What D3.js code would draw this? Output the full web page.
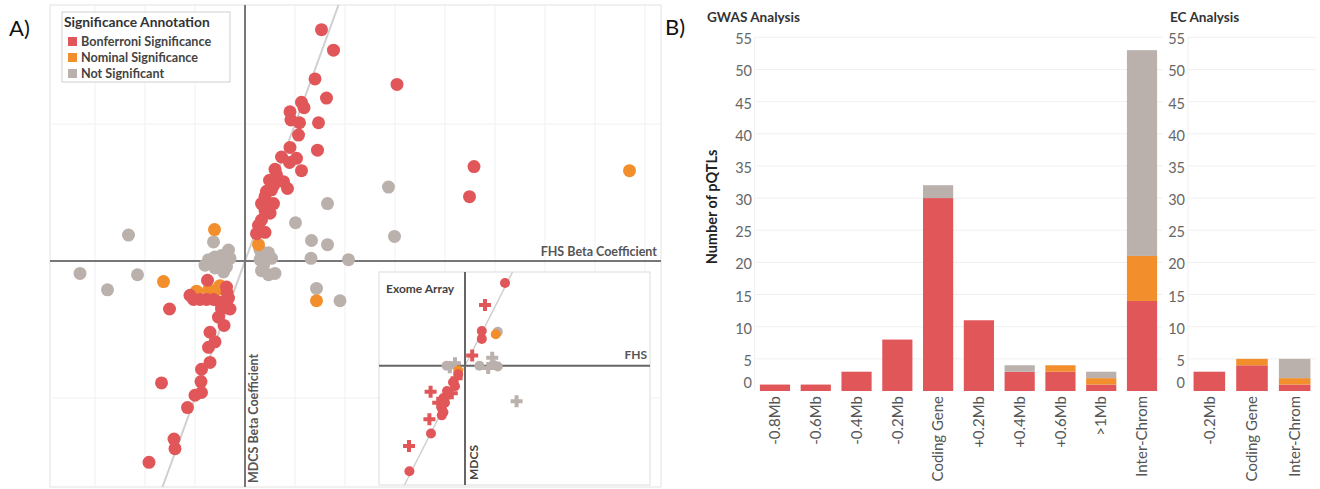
<!DOCTYPE html>
<html>
<head>
<meta charset="utf-8">
<script src="https://cdn.jsdelivr.net/npm/d3@7"></script>
<style>
  body { margin: 0; background: #fff; }
  svg { display: block; font-family: Lato, "Open Sans", sans-serif; }
</style>
</head>
<body>
<svg id="chart" width="1320" height="489"></svg>
<script>
// ---- panel A data: [FHS beta, MDCS beta]
const bonfPts = [
  [0.153, 0.169], [0.177, 0.154], [0.140, 0.133], [0.163, 0.119], [0.113, 0.116],
  [0.118, 0.112], [0.090, 0.109], [0.092, 0.103], [0.109, 0.101], [0.147, 0.101],
  [0.107, 0.092], [0.090, 0.083], [0.145, 0.081], [0.073, 0.076], [0.089, 0.072],
  [0.103, 0.075], [0.113, 0.066], [0.060, 0.067], [0.063, 0.063], [0.049, 0.059],
  [0.077, 0.058], [0.057, 0.055], [0.085, 0.053], [0.043, 0.051], [0.053, 0.052],
  [0.033, 0.042], [0.057, 0.042], [0.040, 0.037], [0.050, 0.035], [0.033, 0.030],
  [0.027, 0.026], [0.040, 0.021], [0.023, 0.020], [0.050, 0.052], [0.040, 0.047],
  [0.304, 0.129], [0.458, 0.069], [0.449, 0.047],
  [-0.075, -0.014], [-0.151, -0.035], [-0.103, -0.028], [-0.090, -0.028], [-0.077, -0.028],
  [-0.063, -0.028], [-0.050, -0.030], [-0.037, -0.019], [-0.033, -0.027], [-0.030, -0.035],
  [-0.047, -0.035], [-0.053, -0.041], [-0.042, -0.047], [-0.070, -0.052], [-0.060, -0.059],
  [-0.073, -0.063], [-0.070, -0.074], [-0.087, -0.079], [-0.167, -0.089], [-0.088, -0.088],
  [-0.087, -0.096], [-0.100, -0.098], [-0.115, -0.107], [-0.142, -0.130], [-0.140, -0.137],
  [-0.192, -0.147], [-0.036, -0.023], [-0.110, -0.025]
];
const nomPts = [
  [-0.061, 0.023], [0.027, 0.012], [-0.163, -0.015], [0.143, -0.029], [0.769, 0.066],
  [-0.097, -0.022], [-0.073, -0.021], [-0.050, -0.018], [-0.057, -0.021]
];
const notPts = [
  [-0.233, 0.019], [-0.330, -0.009], [-0.215, -0.010], [-0.275, -0.021], [0.165, 0.042],
  [0.287, 0.054], [0.299, 0.018], [0.101, 0.028], [0.133, 0.015], [0.165, 0.012],
  [0.132, 0.002], [0.207, 0.001], [0.143, -0.020], [0.190, -0.029],
  [0.030, 0.008], [0.047, 0.006], [0.053, 0.002], [0.030, 0.001], [0.037, -0.003],
  [0.033, -0.007], [0.047, -0.010], [0.060, -0.009],
  [-0.063, 0.014], [-0.033, 0.008], [-0.047, 0.004], [-0.060, 0.003], [-0.030, 0.002],
  [-0.073, 0.001], [-0.053, -0.002], [-0.080, -0.003], [-0.037, -0.004], [-0.060, -0.005],
  [-0.043, -0.008]
];

// inset (Exome Array): [FHS, MDCS, shape]
const exBonf = [
  [0.100, 0.105, 'c'], [0.042, 0.044, 'c'], [0.042, 0.034, 'c'], [-0.017, -0.011, 'c'],
  [-0.025, -0.026, 'c'], [-0.042, -0.037, 'c'], [-0.054, -0.041, 'c'], [-0.050, -0.047, 'c'],
  [-0.058, -0.054, 'c'], [-0.054, -0.059, 'c'], [-0.058, -0.063, 'c'], [-0.085, -0.086, 'c'],
  [-0.139, -0.134, 'c'], [-0.030, -0.021, 'c'], [-0.045, -0.032, 'c'],
  [0.050, 0.077, 'p'], [0.018, 0.013, 'p'], [-0.021, -0.016, 'p'], [-0.033, -0.035, 'p'],
  [-0.086, -0.033, 'p'], [-0.089, -0.068, 'p'], [-0.140, -0.102, 'p'], [-0.067, -0.047, 'p']
];
const exNom = [[0.077, 0.040, 'c'], [-0.017, -0.006, 'c']];
const exNot = [
  [0.082, 0.043, 'c'], [-0.046, 0.000, 'c'], [0.036, 0.000, 'c'], [0.082, -0.001, 'c'],
  [0.071, 0.001, 'c'],
  [-0.025, 0.003, 'p'], [-0.038, -0.002, 'p'], [0.058, -0.003, 'p'], [0.068, 0.010, 'p'],
  [0.129, -0.045, 'p']
];

// ---- panel B data
const gwasCats = ['-0.8Mb', '-0.6Mb', '-0.4Mb', '-0.2Mb', 'Coding Gene', '+0.2Mb', '+0.4Mb', '+0.6Mb', '>1Mb', 'Inter-Chrom'];
const gwasBonf = [1, 1, 3, 8, 30, 11, 3, 3, 1, 14];
const gwasNom = [0, 0, 0, 0, 0, 0, 0, 1, 1, 7];
const gwasNot = [0, 0, 0, 0, 2, 0, 1, 0, 1, 32];
const ecCats = ['-0.2Mb', 'Coding Gene', 'Inter-Chrom'];
const ecBonf = [3, 4, 1];
const ecNom = [0, 1, 1];
const ecNot = [0, 0, 3];
const yTicks = [0, 5, 10, 15, 20, 25, 30, 35, 40, 45, 50, 55];

const legendItems = ['Bonferroni Significance', 'Nominal Significance', 'Not Significant'];
const colors = ['#e15759', '#f28e2b', '#bab0ac'];

const svg = d3.select('#chart');

// ================= panel A =================
const x = d3.scaleLinear().domain([-0.39, 0.832]).range([50, 661]);
const y = d3.scaleLinear().domain([-0.165, 0.187]).range([487, 5]);

const a = svg.append('g');

a.append('rect')
  .attr('x', 50).attr('y', 5).attr('width', 611).attr('height', 482)
  .attr('fill', '#fff').attr('stroke', '#e2e2e2');

// grid
a.selectAll('.gx')
  .data([-0.3, -0.2, -0.1, 0.1, 0.2, 0.3, 0.4, 0.5, 0.6, 0.7, 0.8])
  .enter().append('line')
  .attr('x1', d => x(d)).attr('x2', d => x(d))
  .attr('y1', 5).attr('y2', 487)
  .attr('stroke', '#f1f1f1');
a.selectAll('.gy')
  .data([-0.1, 0.1])
  .enter().append('line')
  .attr('x1', 50).attr('x2', 661)
  .attr('y1', d => y(d)).attr('y2', d => y(d))
  .attr('stroke', '#f1f1f1');

// identity line
a.append('line')
  .attr('x1', x(-0.165)).attr('y1', y(-0.165))
  .attr('x2', x(0.187)).attr('y2', y(0.187))
  .attr('stroke', '#cfcfcf').attr('stroke-width', 2);

// zero lines
a.append('line')
  .attr('x1', 50).attr('x2', 661).attr('y1', y(0)).attr('y2', y(0))
  .attr('stroke', '#777').attr('stroke-width', 2);
a.append('line')
  .attr('x1', x(0)).attr('x2', x(0)).attr('y1', 5).attr('y2', 487)
  .attr('stroke', '#777').attr('stroke-width', 2);

[notPts, nomPts, bonfPts].forEach((pts, i) => {
  a.selectAll('.p' + i)
    .data(pts)
    .enter().append('circle')
    .attr('cx', d => x(d[0]))
    .attr('cy', d => y(d[1]))
    .attr('r', 6.5)
    .attr('fill', colors[2 - i]);
});

a.append('text')
  .attr('x', 657).attr('y', 256)
  .attr('text-anchor', 'end')
  .attr('font-size', '12.5px').attr('font-weight', 'bold').attr('fill', '#555')
  .text('FHS Beta Coefficient');

a.append('text')
  .attr('transform', `translate(${x(0) + 13}, 483) rotate(-90)`)
  .attr('font-size', '12.5px').attr('font-weight', 'bold').attr('fill', '#555')
  .text('MDCS Beta Coefficient');

// legend
const lg = a.append('g');
lg.append('rect')
  .attr('x', 62).attr('y', 12).attr('width', 168).attr('height', 70)
  .attr('fill', '#fff').attr('stroke', '#cfcfcf');
lg.append('text')
  .attr('x', 64).attr('y', 27)
  .attr('font-size', '13.8px').attr('font-weight', 'bold').attr('fill', '#333')
  .text('Significance Annotation');
legendItems.forEach((t, i) => {
  lg.append('rect')
    .attr('x', 68).attr('y', 37 + i * 16).attr('width', 9).attr('height', 9)
    .attr('fill', colors[i]);
  lg.append('text')
    .attr('x', 81).attr('y', 46 + i * 16)
    .attr('font-size', '12.6px').attr('font-weight', 'bold').attr('fill', '#444')
    .text(t);
});

// inset
const ix = d3.scaleLinear().domain([-0.215, 0.4625]).range([379, 650]);
const iy = d3.scaleLinear().domain([-0.1514, 0.1189]).range([485, 272]);
const ins = svg.append('g');
ins.append('rect')
  .attr('x', 379).attr('y', 272).attr('width', 271).attr('height', 213)
  .attr('fill', '#fff').attr('stroke', '#dcdcdc');
ins.append('line')
  .attr('x1', ix(-0.1514)).attr('y1', iy(-0.1514))
  .attr('x2', ix(0.1189)).attr('y2', iy(0.1189))
  .attr('stroke', '#cfcfcf').attr('stroke-width', 1.5);
ins.append('line')
  .attr('x1', 379).attr('x2', 650).attr('y1', iy(0)).attr('y2', iy(0))
  .attr('stroke', '#666').attr('stroke-width', 2);
ins.append('line')
  .attr('x1', ix(0)).attr('x2', ix(0)).attr('y1', 272).attr('y2', 485)
  .attr('stroke', '#666').attr('stroke-width', 2);

const cross = d3.symbol().type(d3.symbolCross).size(80);
[exNot, exNom, exBonf].forEach((pts, i) => {
  const col = colors[2 - i];
  ins.selectAll('.ic' + i)
    .data(pts.filter(d => d[2] === 'c'))
    .enter().append('circle')
    .attr('cx', d => ix(d[0])).attr('cy', d => iy(d[1]))
    .attr('r', 5).attr('fill', col);
  ins.selectAll('.ip' + i)
    .data(pts.filter(d => d[2] === 'p'))
    .enter().append('path')
    .attr('d', cross)
    .attr('transform', d => `translate(${ix(d[0])},${iy(d[1])})`)
    .attr('fill', col);
});

ins.append('text')
  .attr('x', 386).attr('y', 293)
  .attr('font-size', '12px').attr('font-weight', 'bold').attr('fill', '#444')
  .text('Exome Array');
ins.append('text')
  .attr('x', 647).attr('y', 359)
  .attr('text-anchor', 'end')
  .attr('font-size', '12px').attr('font-weight', 'bold').attr('fill', '#555')
  .text('FHS');
ins.append('text')
  .attr('transform', `translate(${ix(0) + 13}, 480) rotate(-90)`)
  .attr('font-size', '12px').attr('font-weight', 'bold').attr('fill', '#444')
  .text('MDCS');

svg.append('text')
  .attr('x', 9).attr('y', 36)
  .attr('font-size', '22px').attr('fill', '#111')
  .text('A)');

// ================= panel B =================
svg.append('text')
  .attr('x', 665).attr('y', 35)
  .attr('font-size', '22px').attr('fill', '#111')
  .text('B)');

const yb = d3.scaleLinear().domain([0, 55]).range([391, 37.3]);

function drawPanel(cats, series, x0, x1, title, titleX, labelX) {
  const g = svg.append('g');
  const xb = d3.scaleBand().domain(cats).range([x0, x1]).paddingInner(0.26).paddingOuter(0.13);

  g.selectAll('.grid')
    .data(yTicks.filter(d => d > 0))
    .enter().append('line')
    .attr('x1', x0).attr('x2', x1)
    .attr('y1', d => yb(d)).attr('y2', d => yb(d))
    .attr('stroke', '#f0f0f0');
  g.append('line')
    .attr('x1', x0).attr('x2', x0).attr('y1', 37).attr('y2', 391)
    .attr('stroke', '#f0f0f0');

  const rows = cats.map((c, i) => ({ cat: c, bonf: series[0][i], nom: series[1][i], not: series[2][i] }));
  const stack = d3.stack().keys(['bonf', 'nom', 'not'])(rows);
  stack.forEach((layer, k) => {
    g.selectAll('.b' + k)
      .data(layer)
      .enter().append('rect')
      .attr('x', d => xb(d.data.cat))
      .attr('width', xb.bandwidth())
      .attr('y', d => yb(d[1]))
      .attr('height', d => yb(d[0]) - yb(d[1]))
      .attr('fill', colors[k]);
  });

  const ax = g.append('g')
    .attr('transform', `translate(${labelX},0)`)
    .call(d3.axisLeft(yb).tickValues(yTicks).tickSize(0).tickPadding(0));
  ax.select('.domain').remove();
  ax.selectAll('text')
    .attr('font-family', 'Lato, sans-serif')
    .attr('font-size', '14.5px')
    .attr('fill', '#666')
    .attr('dy', d => d === 0 ? '-0.25em' : '0.45em');

  const xa = g.append('g')
    .attr('transform', 'translate(0,391)')
    .call(d3.axisBottom(xb).tickSize(0).tickPadding(0));
  xa.select('.domain').remove();
  xa.selectAll('text')
    .attr('font-family', 'Lato, sans-serif')
    .attr('font-size', '15px')
    .attr('fill', '#555')
    .attr('transform', 'rotate(-90)')
    .attr('text-anchor', 'end')
    .attr('x', -5)
    .attr('y', 0)
    .attr('dy', '0.35em');

  g.append('text')
    .attr('x', titleX).attr('y', 22)
    .attr('font-size', '13.6px').attr('font-weight', 'bold').attr('fill', '#333')
    .text(title);
}

drawPanel(gwasCats, [gwasBonf, gwasNom, gwasNot], 754.6, 1162.4, 'GWAS Analysis', 707, 752);
drawPanel(ecCats, [ecBonf, ecNom, ecNot], 1188, 1316, 'EC Analysis', 1170, 1185);

svg.append('text')
  .attr('transform', 'translate(717,207) rotate(-90)')
  .attr('text-anchor', 'middle')
  .attr('font-size', '14.5px').attr('font-weight', 'bold').attr('fill', '#222')
  .text('Number of pQTLs');
</script>
</body>
</html>
